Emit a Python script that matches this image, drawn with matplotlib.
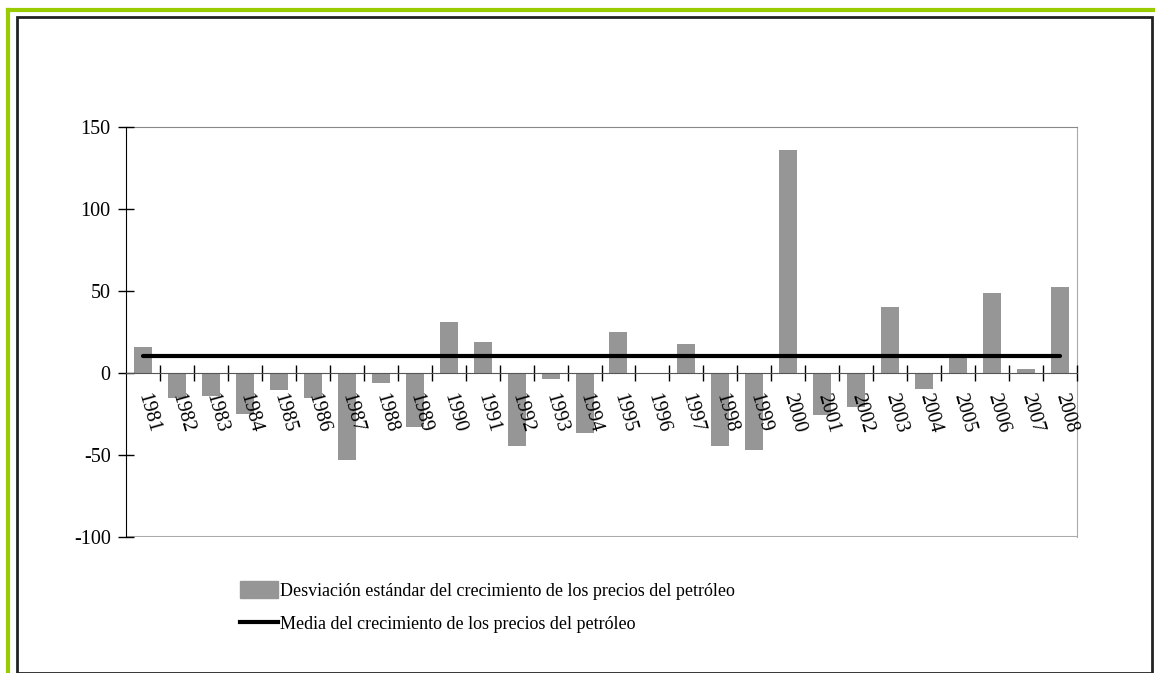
import numpy as np
import matplotlib
matplotlib.use("Agg")
import matplotlib.pyplot as plt
from matplotlib.lines import Line2D

plt.rcParams['font.family'] = ['Liberation Serif', 'DejaVu Serif']

years = [str(y) for y in range(1981, 2009)]
desviacion = [16, -15, -14, -25, -10.5, -15, -53, -6, -33, 31, 19,
              -44.7, -3.7, -36.6, 24.8, 0, 17.9, -44.3, -46.8, 136,
              -25.8, -20.7, 40, -10, 9.6, 49, 2.5, 52.6]
media = [10.4] * len(years)

label_bar = "Desviación estándar del crecimiento de los precios del petróleo"
label_line = "Media del crecimiento de los precios del petróleo"

fig = plt.figure(figsize=(11.55, 6.73), dpi=100)

# outer decorative frames
fig.add_artist(Line2D([8 / 1155, 8 / 1155], [0, 1 - 9.5 / 673], color="#99cc00", lw=3))
fig.add_artist(Line2D([8 / 1155, 1], [1 - 9.5 / 673, 1 - 9.5 / 673], color="#99cc00", lw=3))
fig.add_artist(plt.Rectangle((16.5 / 1155, 0.5 / 673), (1151.5 - 16.5) / 1155, (655.5) / 673,
                             transform=fig.transFigure, fill=False, edgecolor="#222222", lw=2))

ax = fig.add_axes([126 / 1155, 1 - 537 / 673, (1077 - 126) / 1155, (537 - 127) / 673])
ax.set_axisbelow(False)

x = np.arange(len(years))
ax.bar(x, desviacion, width=0.53, color="#969696", label=label_bar, zorder=2)
ax.plot(x, media, color="black", lw=3, solid_capstyle="round", label=label_line, zorder=3)

ax.set_xlim(-0.5, len(years) - 0.5)
ax.set_ylim(-100, 150)
ax.set_yticks([-100, -50, 0, 50, 100, 150])
ax.set_yticklabels(["-100", "-50", "0", "50", "100", "150"])

ax.spines['bottom'].set_position(('data', 0))
ax.spines['bottom'].set_color("#555555")
ax.spines['bottom'].set_zorder(4)
ax.spines['left'].set_color("black")
ax.spines['top'].set_color("#888888")
ax.spines['right'].set_color("#aaaaaa")
ax.axhline(-100, color="#aaaaaa", lw=1.5, zorder=1)

ax.set_xticks(x)
ax.set_xticklabels(years, rotation=-74, rotation_mode="anchor", ha="left", va="center")
ax.set_xticks(np.arange(0.5, len(years)), minor=True)
ax.tick_params(axis='x', which='major', length=0, pad=15, labelsize=14.5)
ax.tick_params(axis='x', which='minor', direction='inout', length=12, width=1, color="black")
ax.tick_params(axis='y', direction='inout', length=12, width=1, labelsize=14.5, pad=5)

handles = [plt.Rectangle((0, 0), 1, 1, color="#969696"),
           Line2D([0], [0], color="black", lw=3)]
fig.legend(handles, [label_bar, label_line], loc="upper left",
           bbox_to_anchor=(240 / 1155, 1 - 581 / 673), frameon=False,
           fontsize=13, handlelength=2.1, handleheight=1.1, handletextpad=0.1,
           labelspacing=0.8, borderpad=0, borderaxespad=0)

fig.savefig("out.png", dpi=100)
